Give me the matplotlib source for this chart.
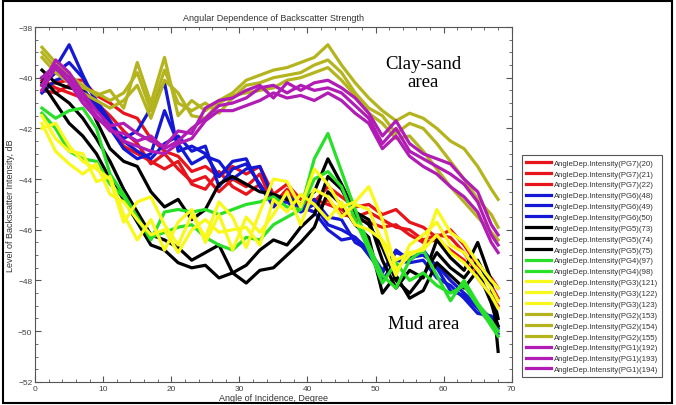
import matplotlib.pyplot as plt
from matplotlib.patches import Rectangle
from matplotlib.ticker import MultipleLocator

plt.rcParams['font.family'] = ['Liberation Sans', 'DejaVu Sans']

# angle of incidence (deg), shared by all profiles
angle = [1, 3, 5, 7, 9, 11, 13, 15, 17, 19, 21, 23, 25, 27, 29, 31, 33, 35,
         37, 39, 41, 43, 45, 47, 49, 51, 53, 55, 57, 59, 61, 63, 65, 67, 68]

# PG7 - red
pg7_20 = [-40.3, -40.2, -40.1, -40.1, -40.7, -41.0, -41.4, -41.6, -42.4, -42.9, -43.1, -43.7,
          -43.5, -43.9, -43.5, -43.8, -43.5, -44.6, -44.2, -44.8, -44.9, -44.3, -44.7, -45.1,
          -45.0, -45.4, -45.2, -45.7, -45.9, -46.3, -46.0, -46.6, -47.4, -47.9, -48.3]
pg7_21 = [-40.5, -40.6, -40.3, -40.5, -41.0, -41.5, -42.1, -42.6, -43.4, -43.0, -43.6, -44.1,
          -43.9, -44.5, -44.0, -44.3, -43.8, -45.0, -44.4, -45.1, -45.3, -44.8, -45.4, -45.5,
          -45.3, -45.6, -45.9, -46.0, -46.4, -46.2, -46.3, -46.9, -47.7, -48.2, -48.7]
pg7_22 = [-40.1, -40.4, -40.6, -40.8, -41.2, -41.9, -42.7, -43.0, -43.3, -43.6, -43.3, -44.2,
          -44.4, -43.7, -44.3, -44.6, -44.2, -44.9, -44.9, -45.0, -44.8, -45.0, -45.2, -45.6,
          -45.7, -45.9, -45.8, -46.2, -46.5, -46.4, -46.8, -47.2, -47.9, -48.6, -49.0]

# PG6 - blue
pg6_48 = [-40.0, -39.6, -38.7, -39.9, -41.0, -41.9, -42.4, -42.1, -41.2, -40.2, -42.9, -42.7,
          -43.0, -43.9, -43.3, -43.2, -44.3, -45.0, -44.9, -45.3, -45.0, -45.8, -46.0, -46.3,
          -46.8, -47.6, -46.9, -47.1, -47.0, -47.4, -48.0, -48.5, -49.0, -49.5, -49.9]
pg6_49 = [-40.3, -39.8, -39.4, -40.0, -40.9, -41.7, -42.5, -42.9, -43.2, -42.6, -42.3, -42.9,
          -42.7, -44.3, -43.6, -43.4, -44.2, -45.1, -44.6, -45.1, -45.3, -46.0, -46.4, -46.3,
          -47.0, -47.7, -46.8, -47.2, -46.8, -47.5, -48.4, -48.6, -49.1, -49.7, -50.1]
pg6_50 = [-40.6, -40.1, -39.9, -40.4, -41.2, -42.0, -42.8, -43.2, -43.0, -41.3, -42.6, -43.4,
          -43.1, -43.3, -44.0, -43.6, -43.5, -44.8, -44.7, -45.2, -44.8, -45.5, -45.6, -46.5,
          -46.8, -48.0, -47.2, -47.3, -47.2, -47.9, -48.2, -48.7, -49.3, -49.4, -49.8]

# PG5 - black
pg5_73 = [-39.7, -40.2, -40.4, -40.5, -41.7, -42.8, -43.3, -43.5, -44.5, -45.1, -44.8, -45.6,
          -45.2, -44.2, -43.9, -44.2, -44.5, -44.6, -44.8, -45.0, -44.5, -43.2, -44.2, -45.3,
          -45.6, -47.2, -48.3, -47.6, -47.9, -46.4, -47.1, -47.6, -46.5, -48.0, -50.8]
pg5_74 = [-40.0, -40.6, -41.0, -41.6, -42.4, -43.3, -44.4, -45.3, -46.2, -46.4, -46.7, -47.2,
          -46.9, -46.6, -47.7, -47.4, -46.8, -46.4, -46.6, -45.9, -45.4, -43.9, -44.4, -45.4,
          -45.8, -46.7, -48.0, -48.5, -47.8, -46.9, -47.5, -47.9, -47.2, -48.3, -49.5]
pg5_75 = [-40.2, -41.0, -41.8, -42.3, -43.0, -44.0, -44.8, -45.7, -46.6, -46.8, -47.3, -47.5,
          -47.4, -47.9, -47.7, -48.1, -47.6, -47.5, -47.0, -46.5, -45.9, -44.5, -45.0, -45.8,
          -46.3, -48.5, -47.8, -48.7, -48.4, -47.3, -47.8, -48.3, -47.6, -48.9, -49.8]

# PG4 - green
pg4_97 = [-41.2, -41.6, -41.3, -41.2, -42.0, -43.8, -44.6, -45.5, -46.4, -45.3, -45.2, -45.3,
          -45.2, -45.4, -45.2, -45.0, -44.9, -44.7, -45.1, -45.2, -43.2, -42.2, -43.7, -45.2,
          -46.6, -47.8, -48.3, -47.2, -46.8, -47.8, -48.8, -48.0, -48.9, -49.6, -50.0]
pg4_98 = [-41.4, -42.0, -42.9, -43.2, -43.3, -44.2, -44.7, -45.6, -46.3, -46.1, -45.9, -45.8,
          -46.3, -46.6, -46.8, -46.3, -46.4, -45.8, -45.5, -45.2, -44.0, -43.7, -44.3, -45.6,
          -46.8, -48.1, -47.3, -48.0, -47.7, -48.2, -48.5, -48.2, -49.0, -49.8, -50.2]

# PG3 - yellow
pg3_121 = [-42.0, -41.8, -42.7, -43.3, -43.6, -44.0, -45.7, -44.9, -44.7, -45.8, -46.6, -45.4,
           -46.3, -44.9, -45.5, -46.7, -45.3, -44.0, -44.1, -45.1, -43.6, -44.2, -45.1, -44.9,
           -44.3, -45.6, -47.6, -47.0, -46.7, -45.2, -46.1, -46.5, -47.3, -48.0, -48.3]
pg3_122 = [-41.5, -42.4, -42.9, -43.0, -44.1, -43.9, -45.4, -46.4, -45.6, -46.8, -45.7, -45.2,
           -46.5, -45.4, -46.8, -45.5, -46.1, -45.4, -44.5, -45.8, -44.4, -44.7, -45.5, -45.0,
           -45.2, -46.5, -47.8, -46.6, -46.2, -45.7, -46.6, -46.9, -47.6, -48.3, -48.8]
pg3_123 = [-41.8, -42.9, -43.4, -43.8, -43.4, -44.6, -44.9, -45.6, -46.2, -46.0, -46.9, -46.0,
           -45.6, -46.1, -46.0, -45.9, -46.6, -44.8, -45.3, -44.6, -45.0, -45.6, -44.9, -45.8,
           -46.0, -46.4, -47.2, -46.9, -46.8, -46.2, -46.9, -47.3, -47.9, -48.6, -49.1]

# PG2 - olive
pg2_153 = [-38.8, -39.4, -39.9, -40.3, -40.7, -40.5, -41.2, -39.4, -41.0, -39.2, -41.5, -40.9,
           -41.3, -40.9, -40.6, -40.1, -39.9, -39.7, -39.6, -39.4, -39.2, -38.7, -39.5, -40.2,
           -40.8, -41.3, -41.7, -41.4, -41.6, -42.0, -42.5, -42.8, -43.5, -44.4, -44.8]
pg2_154 = [-39.0, -39.6, -40.0, -40.4, -40.6, -40.9, -40.6, -39.8, -41.3, -39.7, -41.0, -41.3,
           -41.0, -41.4, -40.8, -40.3, -40.2, -40.0, -39.9, -39.8, -39.5, -39.3, -39.8, -40.6,
           -41.2, -41.5, -42.2, -41.8, -42.0, -42.6, -43.3, -44.0, -44.8, -45.4, -45.9]
pg2_155 = [-39.2, -39.8, -40.2, -40.6, -40.9, -41.2, -40.9, -40.3, -41.6, -40.1, -40.6, -41.5,
           -41.6, -41.0, -40.7, -40.6, -40.5, -40.4, -40.1, -40.0, -39.8, -39.6, -40.1, -40.7,
           -41.4, -41.8, -42.4, -42.3, -42.9, -43.6, -44.3, -44.9, -45.5, -46.1, -46.4]

# PG1 - magenta
pg1_192 = [-40.3, -39.3, -39.8, -40.6, -41.3, -41.9, -41.8, -42.2, -42.5, -42.7, -42.1, -42.2,
           -41.2, -40.9, -40.8, -40.5, -40.3, -40.8, -40.2, -40.5, -40.2, -40.1, -40.4, -40.8,
           -41.4, -42.3, -41.7, -42.6, -43.0, -43.2, -43.4, -44.0, -44.5, -45.8, -46.2]
pg1_193 = [-40.0, -39.5, -40.0, -40.8, -41.5, -42.1, -42.2, -42.5, -42.3, -42.8, -42.5, -42.0,
           -41.6, -41.1, -41.0, -40.8, -40.4, -40.3, -40.6, -40.3, -40.5, -40.4, -40.6, -41.1,
           -41.6, -42.6, -42.0, -42.9, -43.2, -43.5, -43.8, -44.2, -44.9, -46.2, -46.6]
pg1_194 = [-40.5, -39.6, -40.2, -41.0, -41.6, -42.0, -42.5, -42.7, -42.9, -43.0, -42.6, -42.4,
           -41.7, -41.3, -41.3, -41.1, -40.9, -40.6, -40.8, -40.7, -40.9, -40.6, -40.9, -41.4,
           -41.8, -42.8, -42.3, -43.1, -43.5, -43.8, -44.3, -44.7, -45.3, -46.5, -46.9]

series = [
    ('AngleDep.Intensity(PG7)(20)', pg7_20, '#e8141c'),
    ('AngleDep.Intensity(PG7)(21)', pg7_21, '#e8141c'),
    ('AngleDep.Intensity(PG7)(22)', pg7_22, '#e8141c'),
    ('AngleDep.Intensity(PG6)(48)', pg6_48, '#1418d4'),
    ('AngleDep.Intensity(PG6)(49)', pg6_49, '#1418d4'),
    ('AngleDep.Intensity(PG6)(50)', pg6_50, '#1418d4'),
    ('AngleDep.Intensity(PG5)(73)', pg5_73, '#000000'),
    ('AngleDep.Intensity(PG5)(74)', pg5_74, '#000000'),
    ('AngleDep.Intensity(PG5)(75)', pg5_75, '#000000'),
    ('AngleDep.Intensity(PG4)(97)', pg4_97, '#28e028'),
    ('AngleDep.Intensity(PG4)(98)', pg4_98, '#28e028'),
    ('AngleDep.Intensity(PG3)(121)', pg3_121, '#f8f81c'),
    ('AngleDep.Intensity(PG3)(122)', pg3_122, '#f8f81c'),
    ('AngleDep.Intensity(PG3)(123)', pg3_123, '#f8f81c'),
    ('AngleDep.Intensity(PG2)(153)', pg2_153, '#b4b41e'),
    ('AngleDep.Intensity(PG2)(154)', pg2_154, '#b4b41e'),
    ('AngleDep.Intensity(PG2)(155)', pg2_155, '#b4b41e'),
    ('AngleDep.Intensity(PG1)(192)', pg1_192, '#b01cb4'),
    ('AngleDep.Intensity(PG1)(193)', pg1_193, '#b01cb4'),
    ('AngleDep.Intensity(PG1)(194)', pg1_194, '#b01cb4'),
]

fig = plt.figure(figsize=(6.76, 4.06), dpi=100)
ax = fig.add_axes([0.052, 0.057, 0.705, 0.874])

for label, vals, col in series:
    ax.plot(angle, vals, color=col, lw=2.3, label=label)

ax.set_xlim(0, 70)
ax.set_ylim(-52, -38)
ax.xaxis.set_major_locator(MultipleLocator(10))
ax.xaxis.set_minor_locator(MultipleLocator(2))
ax.yaxis.set_major_locator(MultipleLocator(2))
ax.yaxis.set_minor_locator(MultipleLocator(0.5))
ax.tick_params(which='both', direction='in', top=True, right=True,
               labelsize=6, labelcolor='#404040', color='#555555', pad=2)
ax.tick_params(which='major', length=4)
ax.tick_params(which='minor', length=2.5)
for sp in ax.spines.values():
    sp.set_color('#555555')
    sp.set_linewidth(0.8)

ax.set_title('Angular Dependence of Backscatter Strength', fontsize=6.5, color='#333333', pad=5)
ax.set_xlabel('Angle of Incidence, Degree', fontsize=6.5, color='#333333', labelpad=1)
ax.set_ylabel('Level of Backscatter Intensity, dB', fontsize=6.5, color='#333333', labelpad=2)

ax.text(57, -39.8, 'Clay-sand\narea', family='Liberation Serif', fontsize=13.5,
        ha='center', va='center', linespacing=1.1)
ax.text(57, -49.7, 'Mud area', family='Liberation Serif', fontsize=13.5,
        ha='center', va='center')

leg = fig.legend(loc='upper left', bbox_to_anchor=(0.772, 0.615), fontsize=5.6,
                 handlelength=3.2, handletextpad=0.4, labelspacing=0.44,
                 borderpad=0.5, fancybox=False, framealpha=1, borderaxespad=0)
leg.get_frame().set_edgecolor('#555555')
leg.get_frame().set_linewidth(0.8)
for t in leg.get_texts():
    t.set_color('#333333')

fig.patches.append(Rectangle((0.004, 0.005), 0.99, 0.99, transform=fig.transFigure,
                             fill=False, edgecolor='black', lw=1.5))

fig.savefig('out.png', dpi=100)
